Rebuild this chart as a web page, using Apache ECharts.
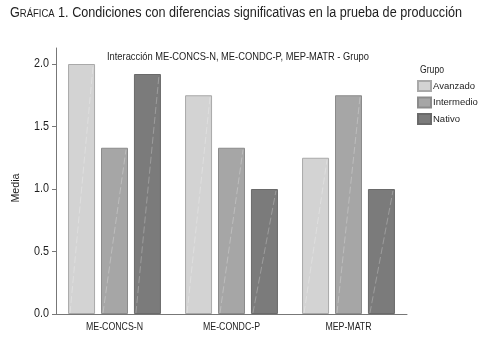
<!DOCTYPE html>
<html><head><meta charset="utf-8">
<script src="https://cdn.jsdelivr.net/npm/echarts@6/dist/echarts.min.js"></script>
<style>html,body{margin:0;padding:0;background:#fff}#c{width:484px;height:337px}</style>
</head><body><div id="c"></div>
<script>
var categories = ['ME-CONCS-N', 'ME-CONDC-P', 'MEP-MATR'];
var groups = ['Avanzado', 'Intermedio', 'Nativo'];
var avanzado = [2.0, 1.75, 1.25];
var intermedio = [1.33, 1.33, 1.75];
var nativo = [1.92, 1.0, 1.0];
var yTicks = [0, 0.5, 1.0, 1.5, 2.0];
var titleParts = ['G', 'RÁFICA', ' 1. Condiciones con diferencias significativas en la prueba de producción'];
var subtitle = 'Interacción ME-CONCS-N, ME-CONDC-P, MEP-MATR - Grupo';
var yName = 'Media';
var legendTitle = 'Grupo';

var seriesData = [avanzado, intermedio, nativo];
var colors = ['#d3d3d3', '#a6a6a6', '#7b7b7b'];
var borders = ['#a9a9a9', '#8b8b8b', '#6a6a6a'];
var FF = '"Liberation Sans", Arial, sans-serif';
var TXT = '#1e1e1e';
var BAR_W = 27, GAP = 0.22;

var cv = document.createElement('canvas').getContext('2d');
function w(text, size) { cv.font = size + 'px ' + FF; return cv.measureText(text).width; }

var series = groups.map(function (g, i) {
  return {
    name: g, type: 'bar', data: seriesData[i],
    barWidth: BAR_W, barGap: (GAP * 100) + '%',
    itemStyle: {color: colors[i], borderColor: borders[i], borderWidth: 1}
  };
});
// faint diagonal highlight inside each bar
groups.forEach(function (g, i) {
  series.push({
    name: 'diag' + i, type: 'custom', silent: true, z: 3,
    data: seriesData[i].map(function (v, k) { return [k, v]; }),
    renderItem: function (params, api) {
      var off = (i - 1) * BAR_W * (1 + GAP);
      var p0 = api.coord([api.value(0), 0]);
      var p1 = api.coord([api.value(0), api.value(1)]);
      return {type: 'line', shape: {x1: p0[0] + off - BAR_W / 2 + 2, y1: p0[1] - 1, x2: p1[0] + off + BAR_W / 2 - 2, y2: p1[1] + 2},
        style: {stroke: 'rgba(255,255,255,0.25)', lineWidth: 1, lineDash: [7, 3]}};
    }
  });
});

var chart = echarts.init(document.getElementById('c'));
chart.setOption({
  animation: false,
  backgroundColor: '#fff',
  legend: {
    orient: 'vertical', left: 417, top: 80, padding: 0,
    itemWidth: 13, itemHeight: 10, itemGap: 4.5,
    icon: 'rect',
    textStyle: {fontFamily: FF, fontSize: 9.5, lineHeight: 10, color: TXT, padding: [0, 0, 0, -3]},
    data: groups
  },
  grid: {left: 56, right: 77, top: 48, bottom: 23, containLabel: false},
  xAxis: {
    type: 'category', data: categories,
    axisLine: {lineStyle: {color: '#777', width: 1}},
    axisTick: {alignWithLabel: true, length: 4, lineStyle: {color: '#777'}},
    axisLabel: {show: false}
  },
  yAxis: {
    type: 'value', min: 0, max: 2.128,
    axisLine: {show: true, lineStyle: {color: '#777', width: 1}},
    axisTick: {show: true, length: 4, lineStyle: {color: '#777'}, customValues: yTicks},
    axisLabel: {show: false},
    splitLine: {show: false}
  },
  series: series
});

var g = [];
var tSizes = [14, 10.5, 14];
var tW = w(titleParts[0], tSizes[0]) + w(titleParts[1], tSizes[1]) + w(titleParts[2], tSizes[2]);
var tScale = 452 / tW;
g.push({type: 'text', x: 10, y: 13, scaleX: tScale, silent: true,
  style: {text: '{a|' + titleParts[0] + '}{b|' + titleParts[1] + '}{a|' + titleParts[2] + '}',
    align: 'left', verticalAlign: 'middle', fill: TXT,
    rich: {a: {fontFamily: FF, fontSize: tSizes[0], fill: TXT, color: TXT},
           b: {fontFamily: FF, fontSize: tSizes[1], fill: TXT, color: TXT, padding: [2, 0, 0, 0]}}}});
var sScale = 262 / w(subtitle, 10.5);
g.push({type: 'text', x: 107, y: 57, scaleX: sScale, silent: true,
  style: {text: subtitle, font: '10.5px ' + FF, fill: TXT, align: 'left', verticalAlign: 'middle'}});
g.push({type: 'text', x: 432, y: 70, scaleX: 24 / w(legendTitle, 10), silent: true,
  style: {text: legendTitle, font: '10px ' + FF, fill: TXT, align: 'center', verticalAlign: 'middle'}});
var xScale = 57 / w('ME-CONCS-N', 11);
categories.forEach(function (c) {
  var px = chart.convertToPixel({xAxisIndex: 0}, c);
  g.push({type: 'text', x: px, y: 327, scaleX: xScale, silent: true,
    style: {text: c, font: '11px ' + FF, fill: TXT, align: 'center', verticalAlign: 'middle'}});
});
var yScale = 15 / w('2.0', 12.5);
yTicks.forEach(function (v) {
  var py = chart.convertToPixel({yAxisIndex: 0}, v);
  g.push({type: 'text', x: 49, y: py, scaleX: yScale, silent: true,
    style: {text: v.toFixed(1), font: '12.5px ' + FF, fill: TXT, align: 'right', verticalAlign: 'middle'}});
});
g.push({type: 'text', x: 16, y: 188, rotation: Math.PI / 2, scaleX: 29 / w(yName, 11), silent: true,
  style: {text: yName, font: '11px ' + FF, fill: TXT, align: 'center', verticalAlign: 'middle'}});
chart.setOption({graphic: g});
</script></body></html>
